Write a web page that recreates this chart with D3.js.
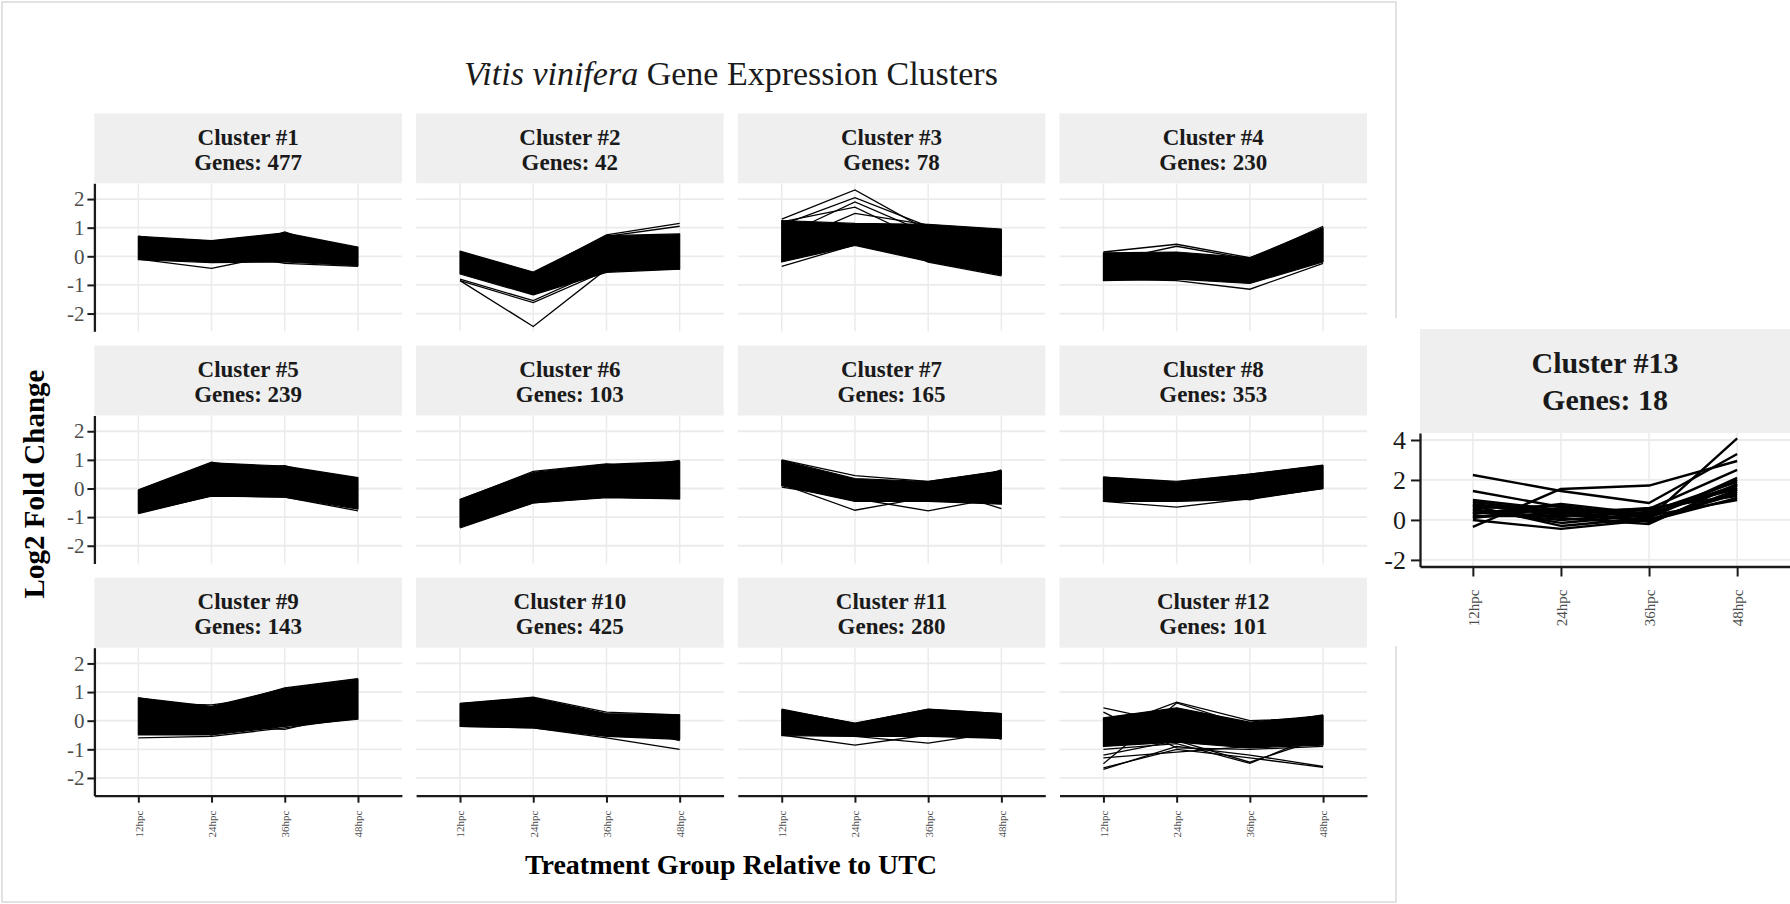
<!DOCTYPE html>
<html>
<head>
<meta charset="utf-8">
<script src="https://cdn.jsdelivr.net/npm/d3@7"></script>
<style>
    body { margin: 0; background: #fff; }
    svg { display: block; }
    text { font-family: "Liberation Serif", "Times New Roman", serif; }
</style>
</head>
<body>
<svg id="chart" width="1790" height="904"></svg>
<script>
var timepoints = ['12hpc', '24hpc', '36hpc', '48hpc'];
var clusterIds = [1, 2, 3, 4, 5, 6, 7, 8, 9, 10, 11, 12];
var geneCounts = [477, 42, 78, 230, 239, 103, 165, 353, 143, 425, 280, 101];
var yTicks = [-2, -1, 0, 1, 2];

// upper / lower edge of the solid black band of gene lines, per time point
var bandHigh = [
    [0.70, 0.55, 0.82, 0.32],
    [0.18, -0.55, 0.72, 0.78],
    [1.25, 1.15, 1.12, 0.95],
    [0.12, 0.15, -0.05, 1.00],
    [-0.06, 0.90, 0.78, 0.38],
    [-0.38, 0.56, 0.84, 0.95],
    [0.98, 0.35, 0.24, 0.62],
    [0.40, 0.22, 0.50, 0.80],
    [0.80, 0.50, 1.12, 1.45],
    [0.60, 0.80, 0.25, 0.20],
    [0.38, -0.08, 0.40, 0.25],
    [0.10, 0.45, -0.05, 0.18]
];
var bandLow = [
    [-0.12, -0.22, -0.20, -0.33],
    [-0.62, -1.35, -0.56, -0.45],
    [-0.20, 0.38, -0.18, -0.65],
    [-0.85, -0.80, -0.95, -0.20],
    [-0.85, -0.27, -0.30, -0.72],
    [-1.35, -0.50, -0.32, -0.36],
    [0.10, -0.45, -0.45, -0.55],
    [-0.45, -0.45, -0.38, 0.00],
    [-0.50, -0.50, -0.20, 0.05],
    [-0.20, -0.25, -0.55, -0.65],
    [-0.52, -0.55, -0.55, -0.62],
    [-0.90, -0.75, -0.95, -0.85]
];

// single gene profiles that stand out at the edges of each band
var edgeProfiles = [
    [[0.7, 0.3, 0.55, 0.3], [-0.1, -0.42, 0.1, -0.2], [0.4, 0.55, 0.3, 0.1], [0.1, 0.0, 0.85, 0.0], [0.0, 0.2, -0.25, -0.35], [0.5, -0.1, 0.6, 0.2]],
    [[-0.85, -2.45, -0.45, 0.0], [-0.85, -1.62, -0.5, -0.3], [-0.8, -1.55, -0.4, -0.45], [0.15, -0.6, 0.75, 1.15], [-0.2, -1.0, 0.7, 1.05], [-0.5, -1.2, -0.2, 0.3], [-0.3, -0.8, 0.4, -0.1], [0.0, -0.9, 0.1, 0.6]],
    [[1.3, 2.32, 0.9, 0.6], [1.1, 2.05, 1.05, 0.9], [0.7, 1.9, 0.8, 0.4], [1.2, 1.72, 0.5, 0.2], [0.4, 1.5, 1.1, 0.7], [-0.35, 0.4, 0.1, -0.3], [0.9, 1.0, -0.2, -0.68], [0.5, 0.6, 0.2, 0.0]],
    [[0.15, 0.42, -0.05, 0.85], [-0.2, 0.35, -0.1, 1.05], [-0.8, -0.85, -1.15, -0.25], [-0.6, -0.75, -0.9, 0.2], [-0.1, -0.2, -0.6, 0.6]],
    [[-0.05, 0.92, 0.5, 0.35], [-0.4, 0.6, 0.8, 0.1], [-0.88, -0.25, -0.3, -0.78], [-0.5, 0.2, 0.7, -0.6], [-0.2, 0.8, 0.6, 0.3]],
    [[-0.4, 0.6, 0.86, 0.6], [-1.38, -0.5, -0.3, -0.35], [-0.9, 0.1, 0.6, 0.98], [-1.2, -0.3, 0.3, 0.5], [-0.6, 0.4, 0.1, 0.7]],
    [[1.0, 0.45, 0.25, 0.6], [0.15, -0.76, -0.3, -0.4], [0.05, -0.35, -0.78, -0.3], [0.6, -0.1, 0.1, -0.7], [0.8, 0.3, -0.2, 0.65]],
    [[0.4, 0.25, 0.5, 0.82], [-0.45, -0.65, -0.35, 0.0], [0.0, -0.2, 0.4, 0.6], [-0.3, 0.1, -0.4, 0.3]],
    [[0.8, 0.4, 1.15, 1.47], [-0.6, -0.55, -0.25, 0.1], [-0.4, -0.2, -0.3, 0.3], [0.6, 0.55, 0.9, 1.35], [0.2, -0.5, 0.7, 1.1]],
    [[0.6, 0.82, 0.3, 0.2], [-0.2, -0.25, -0.6, -1.0], [0.2, 0.5, -0.1, -0.7], [0.0, 0.7, 0.2, -0.3]],
    [[0.4, -0.1, 0.4, 0.25], [-0.5, -0.85, -0.5, -0.6], [-0.2, -0.55, -0.78, -0.4], [0.1, -0.3, 0.2, -0.65]],
    [[0.45, -0.1, -0.5, -0.8], [-1.65, -1.0, -1.3, -1.63], [-1.7, -0.9, -1.2, -1.6], [-1.0, -0.8, -1.49, -0.45], [-1.2, -0.7, -1.45, -0.6], [-1.5, 0.62, -0.2, 0.2], [-0.3, 0.65, 0.0, 0.1], [0.3, -0.95, -1.0, -0.9], [-1.3, -1.1, -0.9, -0.7], [0.0, 0.4, -0.5, -0.5]]
];

// cluster 13 is plotted on its own, every gene drawn
var inset13Genes = 18;
var inset13Ticks = [-2, 0, 2, 4];
var inset13Profiles = [
    [2.25, 1.45, 0.85, 3.3],
    [-0.35, 1.55, 1.72, 2.95],
    [1.45, 0.65, 0.1, 4.08],
    [0.9, 0.4, 0.55, 2.5],
    [0.7, -0.3, 0.1, 2.1],
    [0.5, 0.1, -0.2, 1.8],
    [0.3, 0.8, 0.3, 1.6],
    [0.0, -0.45, 0.0, 1.4],
    [0.8, 0.3, 0.6, 1.2],
    [0.6, 0.7, 0.2, 1.0],
    [0.2, 0.2, 0.4, 1.9],
    [1.0, 0.5, -0.1, 1.5],
    [0.4, 0.0, 0.3, 1.7],
    [0.1, 0.6, 0.1, 2.0],
    [0.75, 0.25, 0.0, 1.3],
    [0.35, 0.5, 0.5, 1.55],
    [0.55, -0.15, 0.25, 1.75],
    [0.15, 0.35, -0.05, 1.1]
];

var layout = { left: 94.4, top: 113.3, panelW: 307.5, gap: 14.2, stripH: 70, plotH: 148 };
var gridColor = '#ebebeb';
var axisColor = '#1a1a1a';

var svg = d3.select('#chart');

var x = d3.scalePoint().domain(timepoints).range([0, layout.panelW]).padding(0.6);
var y = d3.scaleLinear().domain([-2.62, 2.55]).range([layout.plotH, 0]);

function drawGrid(g, xs, ys, ticks, w, h) {
    g.selectAll('line.hgrid').data(ticks).enter().append('line')
        .attr('class', 'hgrid')
        .attr('x1', 0).attr('x2', w)
        .attr('y1', function (d) { return ys(d); })
        .attr('y2', function (d) { return ys(d); })
        .attr('stroke', gridColor).attr('stroke-width', 1.8);
    g.selectAll('line.vgrid').data(timepoints).enter().append('line')
        .attr('class', 'vgrid')
        .attr('y1', 0).attr('y2', h)
        .attr('x1', function (d) { return xs(d); })
        .attr('x2', function (d) { return xs(d); })
        .attr('stroke', gridColor).attr('stroke-width', 1.5);
}

function styleAxis(axisG, fontSize) {
    axisG.attr('font-family', null).attr('font-size', null);
    axisG.select('.domain').attr('stroke', axisColor).attr('stroke-width', 2.3);
    axisG.selectAll('.tick line').attr('stroke', axisColor).attr('stroke-width', 2);
    axisG.selectAll('.tick text').attr('fill', '#4d4d4d').style('font-size', fontSize + 'px');
}

function rotateXLabels(axisG, offset) {
    axisG.selectAll('.tick text')
        .attr('transform', 'rotate(-90)')
        .attr('text-anchor', 'end')
        .attr('x', -offset)
        .attr('y', 0)
        .attr('dy', '0.35em');
}

function drawStrip(g, w, h, lines, fontSize, baselines) {
    g.append('rect')
        .attr('width', w).attr('height', h)
        .attr('fill', '#efefef');
    g.selectAll('text.strip').data(lines).enter().append('text')
        .attr('class', 'strip')
        .attr('x', w / 2)
        .attr('y', function (d, i) { return baselines[i]; })
        .attr('text-anchor', 'middle')
        .attr('font-weight', 'bold')
        .attr('fill', '#1a1a1a')
        .style('font-size', fontSize + 'px')
        .text(function (d) { return d; });
}

// outer frame of the 12-panel figure
svg.append('rect')
    .attr('x', 2).attr('y', 2).attr('width', 1394).attr('height', 900)
    .attr('fill', '#fff').attr('stroke', '#d9d9d9').attr('stroke-width', 1.5);

svg.append('text')
    .attr('x', 731).attr('y', 85)
    .attr('text-anchor', 'middle')
    .attr('fill', '#1a1a1a')
    .style('font-size', '34px')
    .call(function (t) {
        t.append('tspan').attr('font-style', 'italic').text('Vitis vinifera');
        t.append('tspan').text(' Gene Expression Clusters');
    });

var band = d3.area()
    .x(function (d) { return x(timepoints[d]); })
    .curve(d3.curveLinear);
var profileLine = d3.line()
    .x(function (d, i) { return x(timepoints[i]); })
    .y(function (d) { return y(d); });

clusterIds.forEach(function (id, idx) {
    var col = idx % 4;
    var row = Math.floor(idx / 4);
    var px = layout.left + col * (layout.panelW + layout.gap);
    var py = layout.top + row * (layout.stripH + layout.plotH + layout.gap);

    var panel = svg.append('g').attr('transform', 'translate(' + px + ',' + py + ')');
    drawStrip(panel, layout.panelW, layout.stripH,
        ['Cluster #' + id, 'Genes: ' + geneCounts[idx]], 23, [31.7, 56.7]);

    var plot = panel.append('g').attr('transform', 'translate(0,' + layout.stripH + ')');
    drawGrid(plot, x, y, yTicks, layout.panelW, layout.plotH);

    plot.append('path')
        .attr('d', band
            .y0(function (d) { return y(bandLow[idx][d]); })
            .y1(function (d) { return y(bandHigh[idx][d]); })([0, 1, 2, 3]))
        .attr('fill', '#000')
        .attr('stroke', '#000')
        .attr('stroke-width', 1.2)
        .attr('stroke-linejoin', 'round');

    plot.selectAll('path.gene').data(edgeProfiles[idx]).enter().append('path')
        .attr('class', 'gene')
        .attr('d', profileLine)
        .attr('fill', 'none')
        .attr('stroke', '#000')
        .attr('stroke-width', 1.3);

    if (col === 0) {
        var yAxis = plot.append('g')
            .call(d3.axisLeft(y).tickValues(yTicks).tickSize(7).tickSizeOuter(0).tickPadding(3)
                .tickFormat(function (d) { return String(d); }));
        styleAxis(yAxis, 21);
    }
    if (row === 2) {
        var xAxis = plot.append('g')
            .attr('transform', 'translate(0,' + layout.plotH + ')')
            .call(d3.axisBottom(x).tickSize(7).tickSizeOuter(0));
        styleAxis(xAxis, 11);
        rotateXLabels(xAxis, 15);
    }
});

svg.append('text')
    .attr('transform', 'translate(44,484) rotate(-90)')
    .attr('text-anchor', 'middle')
    .attr('font-weight', 'bold')
    .attr('fill', '#000')
    .style('font-size', '29px')
    .text('Log2 Fold Change');

svg.append('text')
    .attr('x', 731).attr('y', 873.5)
    .attr('text-anchor', 'middle')
    .attr('font-weight', 'bold')
    .attr('fill', '#000')
    .style('font-size', '28px')
    .text('Treatment Group Relative to UTC');

// cluster 13, pasted to the right of the grid
var inset = { left: 1420, top: 329, w: 370, stripH: 104, plotH: 133.5 };
var x13 = d3.scalePoint().domain(timepoints).range([0, inset.w]).padding(0.6);
var y13 = d3.scaleLinear().domain([-2.33, 4.35]).range([inset.plotH, 0]);

svg.append('rect')
    .attr('x', 1376).attr('y', 318).attr('width', 414).attr('height', 328)
    .attr('fill', '#fff');

var panel13 = svg.append('g').attr('transform', 'translate(' + inset.left + ',' + inset.top + ')');
drawStrip(panel13, inset.w, inset.stripH, ['Cluster #13', 'Genes: ' + inset13Genes], 30, [44.3, 81]);

var plot13 = panel13.append('g').attr('transform', 'translate(0,' + inset.stripH + ')');
drawGrid(plot13, x13, y13, inset13Ticks, inset.w, inset.plotH);

plot13.selectAll('path.gene').data(inset13Profiles).enter().append('path')
    .attr('class', 'gene')
    .attr('d', d3.line()
        .x(function (d, i) { return x13(timepoints[i]); })
        .y(function (d) { return y13(d); }))
    .attr('fill', 'none')
    .attr('stroke', '#000')
    .attr('stroke-width', 2.4)
    .attr('stroke-linejoin', 'round');

var yAxis13 = plot13.append('g')
    .call(d3.axisLeft(y13).tickValues(inset13Ticks).tickSize(9).tickSizeOuter(0).tickPadding(5)
        .tickFormat(function (d) { return String(d); }));
styleAxis(yAxis13, 26);
yAxis13.selectAll('.tick text').attr('fill', '#1a1a1a');

var xAxis13 = plot13.append('g')
    .attr('transform', 'translate(0,' + inset.plotH + ')')
    .call(d3.axisBottom(x13).tickSize(10).tickSizeOuter(0));
styleAxis(xAxis13, 15);
rotateXLabels(xAxis13, 23);
</script>
</body>
</html>
